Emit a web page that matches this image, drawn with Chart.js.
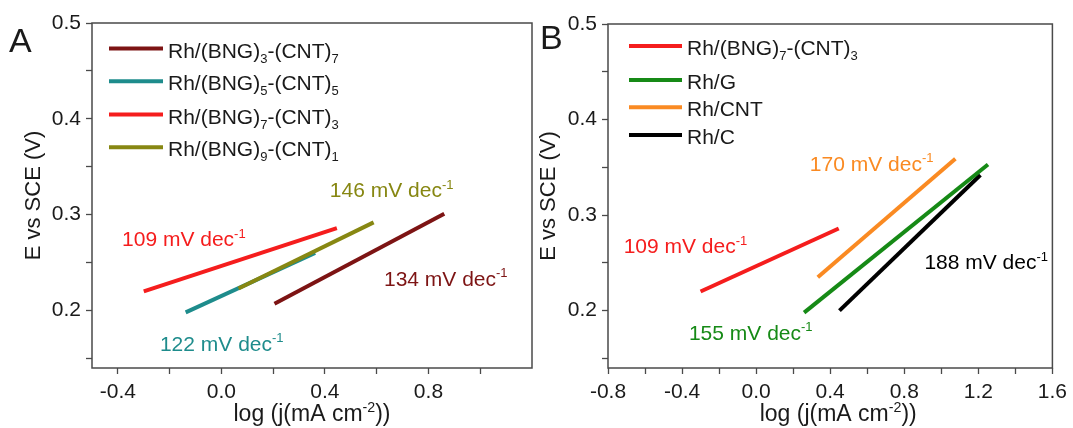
<!DOCTYPE html>
<html lang="en">
<head>
<meta charset="UTF-8">
<title>Tafel plots</title>
<script src="https://cdn.jsdelivr.net/npm/chart.js"></script>
<style>
  html, body { margin: 0; padding: 0; background: #fff; }
  #wrap { position: relative; width: 1073px; height: 428px; overflow: hidden; }
  canvas { position: absolute; top: 0; }
  #chartA { left: 0; }
  #chartB { left: 530px; }
</style>
</head>
<body>
<div id="wrap">
  <canvas id="chartA" width="550" height="428"></canvas>
  <canvas id="chartB" width="543" height="428"></canvas>
</div>
<script>
// ends of each Tafel fit: x = log(j / mA cm-2), y = E vs SCE (V)
const rh37X = [0.205, 0.861];
const rh37Y = [0.207, 0.301];
const rh55X = [-0.138, 0.362];
const rh55Y = [0.198, 0.260];
const rh73X = [-0.300, 0.446];
const rh73Y = [0.220, 0.286];
const rh91X = [0.066, 0.588];
const rh91Y = [0.223, 0.292];
const rhGX = [0.259, 1.252];
const rhGY = [0.198, 0.353];
const rhCntX = [0.333, 1.076];
const rhCntY = [0.235, 0.359];
const rhCX = [0.450, 1.211];
const rhCY = [0.200, 0.342];

// _{..} = subscript, ^{..} = superscript
const namesA = ['Rh/(BNG)_{3}-(CNT)_{7}', 'Rh/(BNG)_{5}-(CNT)_{5}', 'Rh/(BNG)_{7}-(CNT)_{3}', 'Rh/(BNG)_{9}-(CNT)_{1}'];
const namesB = ['Rh/(BNG)_{7}-(CNT)_{3}', 'Rh/G', 'Rh/CNT', 'Rh/C'];
const slopesA = [134, 122, 109, 146];   // mV dec-1
const slopesB = [109, 155, 170, 188];

const xRangeA = [-0.5, 1.2];
const xRangeB = [-0.8, 1.6];
const yRange = [0.14, 0.5];
const xMajor = 0.4, xMinor = 0.2;
const yMajor = 0.1, yMinor = 0.05;

const FONT = '"Liberation Sans", Arial, Helvetica, sans-serif';
const INK = '#1a1a1a';

function onStep(v, step) {
  return Math.abs(Math.round(v / step) * step - v) < 1e-7;
}

function fmt(v) {
  return Math.abs(v) < 1e-9 ? '0.0' : v.toFixed(1);
}

// text with sub/superscripts, y is the baseline
function drawRich(ctx, str, x, y, size, color, align) {
  const parts = [];
  const re = /([_^])\{([^}]*)\}|([^_^]+)/g;
  let m, w = 0;
  while ((m = re.exec(str))) {
    parts.push(m[3] ? {t: m[3], k: ''} : {t: m[2], k: m[1]});
  }
  ctx.save();
  parts.forEach(p => {
    p.s = p.k ? size * 0.62 : size;
    ctx.font = p.s + 'px ' + FONT;
    p.w = ctx.measureText(p.t).width;
    w += p.w;
  });
  let cx = align === 'center' ? x - w / 2 : x;
  ctx.fillStyle = color;
  ctx.textAlign = 'left';
  ctx.textBaseline = 'alphabetic';
  parts.forEach(p => {
    ctx.font = p.s + 'px ' + FONT;
    const dy = p.k === '_' ? size * 0.24 : p.k === '^' ? -size * 0.4 : 0;
    ctx.fillText(p.t, cx, y + dy);
    cx += p.w;
  });
  ctx.restore();
}

function makePanel(id, p) {
  const decor = {
    id: 'decor',
    afterDatasetsDraw(chart) {
      const {ctx, chartArea: a, scales: {x, y}} = chart;
      ctx.save();
      ctx.strokeStyle = '#4a4a4a';
      ctx.lineWidth = 1.5;
      ctx.strokeRect(a.left, a.top, a.right - a.left, a.bottom - a.top);

      // legend
      p.names.forEach((name, i) => {
        const ly = a.top + p.legendRows[i];
        ctx.strokeStyle = p.colors[i];
        ctx.lineWidth = 4;
        ctx.beginPath();
        ctx.moveTo(a.left + p.legendX, ly);
        ctx.lineTo(a.left + p.legendX + p.legendLen, ly);
        ctx.stroke();
        drawRich(ctx, name, a.left + p.legendX + p.legendLen + 5, ly + 9, 21, INK);
      });

      // slope labels, placed by left edge / middle in data units
      p.slopes.forEach((s, i) => {
        const pos = p.labelPos[i];
        drawRich(ctx, s + ' mV dec^{-1}', x.getPixelForValue(pos[0]),
          y.getPixelForValue(pos[1]) + 7.5, 21, p.colors[i]);
      });

      drawRich(ctx, 'log (j(mA cm^{-2}))', (a.left + a.right) / 2 + p.titleShift, a.bottom + 53, 23, INK, 'center');

      ctx.font = '34px ' + FONT;
      ctx.fillStyle = INK;
      ctx.fillText(p.tag, p.tagX, p.tagY);
      ctx.restore();
    }
  };

  const tickGrid = {drawOnChartArea: false, drawTicks: true, tickLength: 6, tickColor: '#4a4a4a', tickWidth: 1.3};

  return new Chart(document.getElementById(id), {
    type: 'scatter',
    data: {
      datasets: p.series.map((s, i) => ({
        label: p.names[i].replace(/[_^]\{([^}]*)\}/g, '$1'),
        data: s[0].map((xv, j) => ({x: xv, y: s[1][j]})),
        showLine: true,
        borderColor: p.colors[i],
        borderWidth: 4,
        pointRadius: 0,
        order: i === p.onTop ? 0 : 1
      }))
    },
    options: {
      responsive: false,
      animation: false,
      events: [],
      layout: {padding: p.padding},
      plugins: {
        legend: {display: false},
        tooltip: {enabled: false}
      },
      scales: {
        x: {
          type: 'linear',
          min: p.xRange[0],
          max: p.xRange[1],
          afterFit: s => { s.height = 60; },
          border: {display: false},
          grid: tickGrid,
          ticks: {
            stepSize: xMinor, includeBounds: false, maxTicksLimit: 30, autoSkip: false, maxRotation: 0,
            padding: 6, color: INK, font: {family: FONT, size: 21},
            callback: v => onStep(v, xMajor) ? fmt(v) : ''
          }
        },
        y: {
          type: 'linear',
          min: yRange[0],
          max: yRange[1],
          afterFit: s => { s.width = p.yWidth; },
          border: {display: false},
          grid: tickGrid,
          title: {display: true, text: 'E vs SCE (V)', color: INK, font: {family: FONT, size: 22}, padding: {top: 0, bottom: 0}},
          ticks: {
            stepSize: yMinor, includeBounds: false, maxTicksLimit: 30, autoSkip: false,
            padding: 5, color: INK, font: {family: FONT, size: 21},
            callback: v => onStep(v, yMajor) ? fmt(v) : ''
          }
        }
      }
    },
    plugins: [decor]
  });
}

makePanel('chartA', {
  series: [[rh37X, rh37Y], [rh55X, rh55Y], [rh73X, rh73Y], [rh91X, rh91Y]],
  names: namesA,
  slopes: slopesA,
  colors: ['#7d1414', '#1e8c8c', '#f51d1d', '#878712'],
  onTop: 3,
  xRange: xRangeA,
  labelPos: [[0.628, 0.2336], [-0.2375, 0.166], [-0.384, 0.2752], [0.419, 0.326]],
  padding: {left: 21, top: 23, right: 18, bottom: 0},
  yWidth: 71,
  legendRows: [25.6, 58.3, 91.6, 124.3],
  legendX: 17, legendLen: 54,
  titleShift: 0,
  tag: 'A', tagX: 9, tagY: 52
});

makePanel('chartB', {
  series: [[rh73X, rh73Y], [rhGX, rhGY], [rhCntX, rhCntY], [rhCX, rhCY]],
  names: namesB,
  slopes: slopesB,
  colors: ['#f51d1d', '#168a16', '#fa8a22', '#000000'],
  onTop: -1,
  xRange: xRangeB,
  labelPos: [[-0.7155, 0.2682], [-0.363, 0.1773], [0.290, 0.3545], [0.9086, 0.2514]],
  padding: {left: 6, top: 24, right: 19, bottom: 0},
  yWidth: 72,
  legendRows: [22, 56, 83.3, 111],
  legendX: 21, legendLen: 53,
  titleShift: 8,
  tag: 'B', tagX: 10, tagY: 49
});
</script>
</body>
</html>
